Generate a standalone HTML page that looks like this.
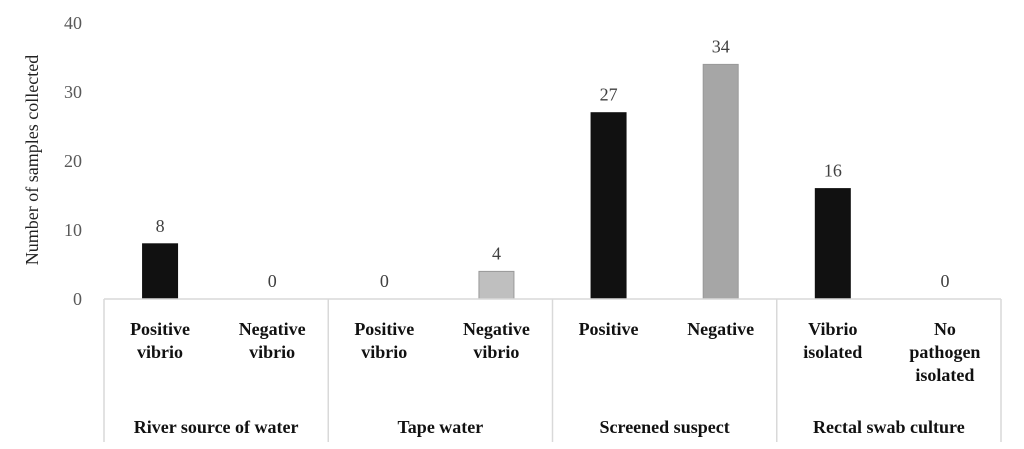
<!DOCTYPE html>
<html><head><meta charset="utf-8"><style>
body{margin:0;background:#fff;}
svg{display:block;font-family:"Liberation Serif",serif;}
</style></head><body>
<svg id="chart" width="1024" height="449" viewBox="0 0 1024 449" xmlns="http://www.w3.org/2000/svg">
<text transform="translate(38,160) rotate(-90)" text-anchor="middle" font-size="18" fill="#222">Number of samples collected</text>
<g id="ticks"></g><g id="bars"></g><g id="cats"></g>
</svg>
<script>
const categories=[["Positive","vibrio"],["Negative","vibrio"],["Positive","vibrio"],["Negative","vibrio"],["Positive"],["Negative"],["Vibrio","isolated"],["No","pathogen","isolated"]];
const values=[8,0,0,4,27,34,16,0];
const colors=["#111","#111","#111","#bfbfbf","#111","#a6a6a6","#111","#111"];
const groups=["River source of water","Tape water","Screened suspect","Rectal swab culture"];
const yTicks=[0,10,20,30,40];
const NS="http://www.w3.org/2000/svg";
const x0=104,x1=1001,yBase=299,yTop=23,yMax=40;
const bw=(x1-x0)/values.length;
const y=v=>yBase-(v/yMax)*(yBase-yTop);
const xc=i=>x0+(i+0.5)*bw;
function mk(tag,attrs,parent,text){const e=document.createElementNS(NS,tag);for(const k in attrs)e.setAttribute(k,attrs[k]);if(text!==undefined)e.textContent=text;parent.appendChild(e);return e;}
const tk=document.getElementById('ticks'),bs=document.getElementById('bars'),cs=document.getElementById('cats');
yTicks.forEach(t=>{const e=mk('text',{x:82,y:y(t)+6,'text-anchor':'end','font-size':18,fill:'#595959'},tk,t);

});
values.forEach((v,i)=>{
 const h=yBase-y(v);
 if(v>0){const r=mk('rect',{x:xc(i)-17.5,y:y(v),width:35,height:h,fill:colors[i],stroke:colors[i]==="#111"?"#111":"#999","stroke-width":1},bs);
 
 }
 const l=mk('text',{x:xc(i),y:y(v)-12,'text-anchor':'middle','font-size':18,fill:'#404040'},bs,v);
 
 
 const t=mk('text',{'text-anchor':'middle','font-size':18,'font-weight':'bold',fill:'#111'},cs);
 
 
 categories[i].forEach((s,j)=>mk('tspan',{x:xc(i),y:335+j*23},t,s));
});
const ax=mk('line',{x1:x0,x2:x1,y1:yBase,y2:yBase,stroke:'#d9d9d9','stroke-width':1.5},cs);


for(let g=0;g<=groups.length;g++){const xx=x0+g*2*bw;
 const s=mk('line',{x1:xx,x2:xx,y1:yBase,y2:442,stroke:'#d9d9d9','stroke-width':1.5},cs);
 
 }
groups.forEach((gname,g)=>{const t=mk('text',{x:x0+(g*2+1)*bw,y:433,'text-anchor':'middle','font-size':18,'font-weight':'bold',fill:'#111'},cs,gname);
 
 });
</script>
</body></html>
